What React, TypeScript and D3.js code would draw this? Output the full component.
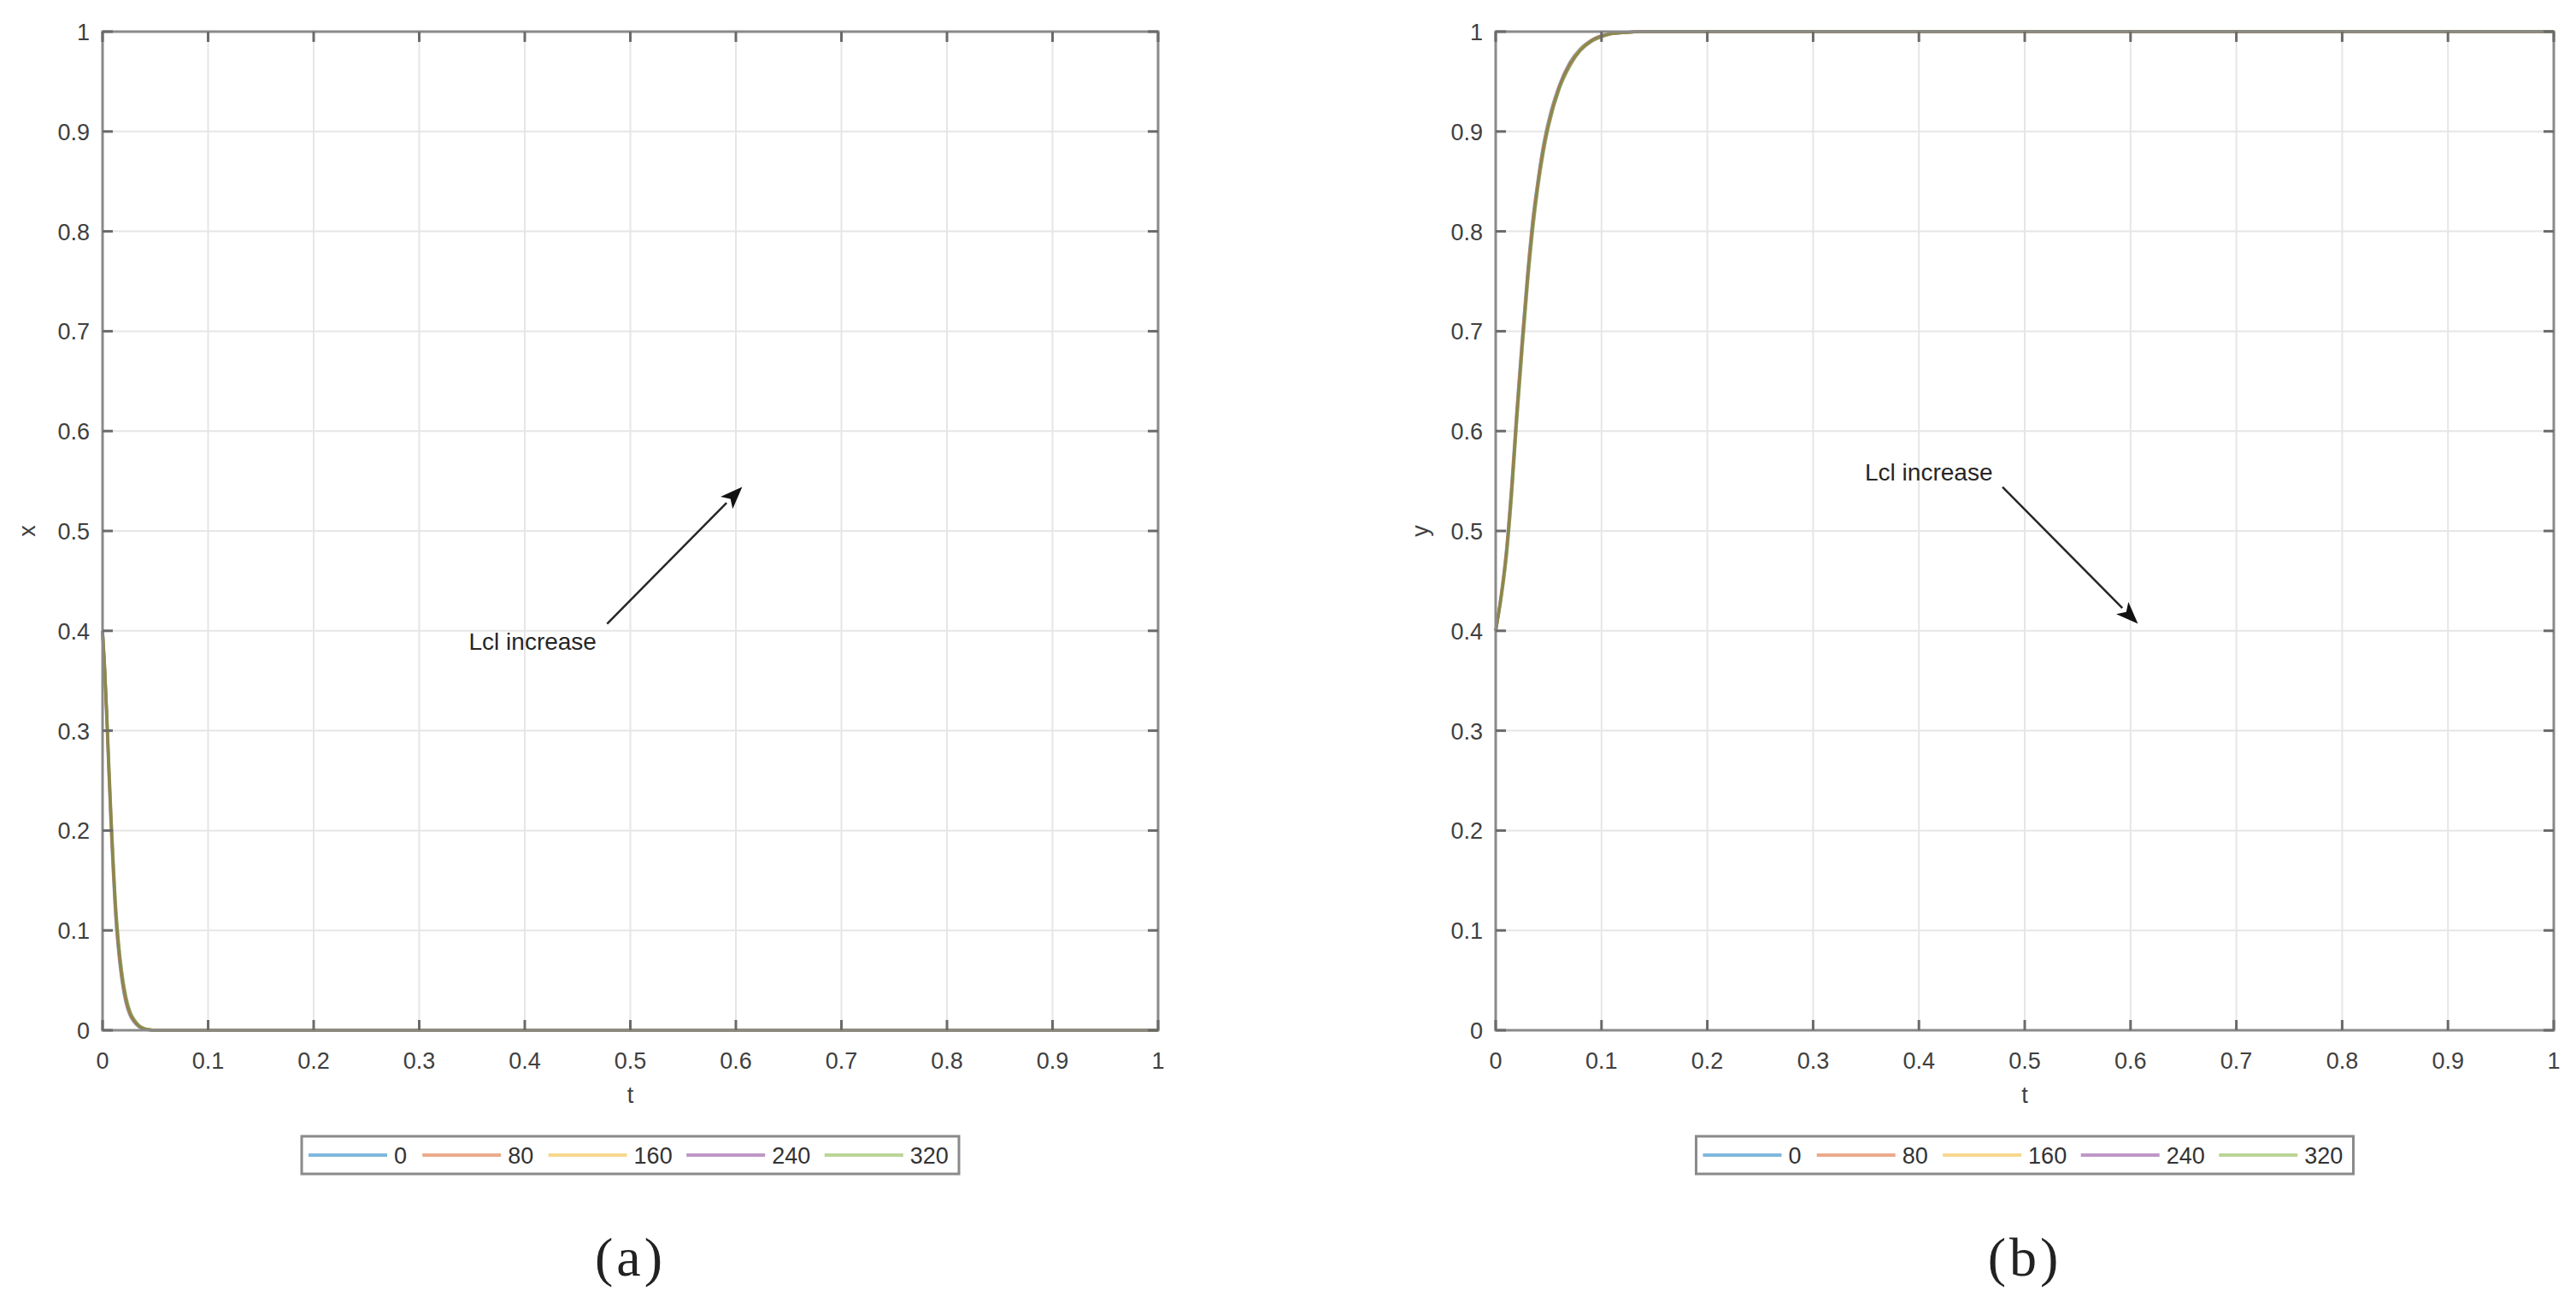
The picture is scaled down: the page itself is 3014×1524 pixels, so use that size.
import * as d3 from 'd3';

// legend labels (Lcl values) and MATLAB default colors
const seriesNames = ['0', '80', '160', '240', '320'];
const seriesColors = ['#0072BD', '#D95319', '#EDB120', '#7E2F8E', '#77AC30'];

const tickValues = [0, 0.1, 0.2, 0.3, 0.4, 0.5, 0.6, 0.7, 0.8, 0.9, 1];
const tickLabels = ['0', '0.1', '0.2', '0.3', '0.4', '0.5', '0.6', '0.7', '0.8', '0.9', '1'];

// panel (a): x(t)
const tX = [0, 0.002, 0.004, 0.006, 0.008, 0.01, 0.012, 0.015, 0.018, 0.022, 0.026, 0.03, 0.035, 0.04, 0.045, 0.05, 0.06, 1];
const x0 = [0.4, 0.36, 0.31, 0.255, 0.205, 0.16, 0.12, 0.08, 0.052, 0.028, 0.015, 0.008, 0.003, 0.001, 0.0003, 0, 0, 0];
const x80 = [0.4, 0.362, 0.313, 0.259, 0.209, 0.164, 0.124, 0.083, 0.055, 0.03, 0.016, 0.009, 0.0035, 0.0012, 0.0004, 0, 0, 0];
const x160 = [0.4, 0.363, 0.315, 0.262, 0.212, 0.167, 0.127, 0.086, 0.057, 0.032, 0.017, 0.0095, 0.004, 0.0014, 0.0005, 0, 0, 0];
const x240 = [0.4, 0.364, 0.317, 0.265, 0.215, 0.17, 0.13, 0.088, 0.059, 0.033, 0.018, 0.01, 0.0042, 0.0015, 0.0005, 0, 0, 0];
const x320 = [0.4, 0.365, 0.319, 0.268, 0.218, 0.173, 0.133, 0.091, 0.061, 0.035, 0.019, 0.011, 0.0045, 0.0016, 0.0006, 0, 0, 0];

// panel (b): y(t)
const tY = [0, 0.005, 0.01, 0.015, 0.02, 0.025, 0.03, 0.035, 0.04, 0.045, 0.05, 0.06, 0.07, 0.08, 0.09, 0.1, 0.11, 0.12, 0.14, 0.2, 1];
const y0 = [0.4, 0.435, 0.48, 0.545, 0.622, 0.692, 0.757, 0.812, 0.852, 0.886, 0.911, 0.946, 0.969, 0.983, 0.991, 0.996, 0.998, 0.999, 1, 1, 1];
const y80 = [0.4, 0.434, 0.478, 0.542, 0.619, 0.689, 0.754, 0.809, 0.85, 0.884, 0.909, 0.945, 0.968, 0.982, 0.991, 0.996, 0.998, 0.999, 1, 1, 1];
const y160 = [0.4, 0.433, 0.476, 0.539, 0.616, 0.686, 0.751, 0.806, 0.848, 0.882, 0.908, 0.944, 0.967, 0.982, 0.99, 0.995, 0.998, 0.999, 1, 1, 1];
const y240 = [0.4, 0.432, 0.474, 0.536, 0.613, 0.683, 0.748, 0.803, 0.846, 0.88, 0.906, 0.943, 0.966, 0.981, 0.99, 0.995, 0.998, 0.999, 1, 1, 1];
const y320 = [0.4, 0.431, 0.472, 0.533, 0.61, 0.68, 0.745, 0.8, 0.844, 0.878, 0.905, 0.942, 0.965, 0.981, 0.99, 0.995, 0.998, 0.999, 1, 1, 1];

const panels = [
  {
    left: 120, right: 1355, yLabel: 'x', caption: '(a)', t: tX,
    series: [x0, x80, x160, x240, x320],
    note: { text: [0.347, 0.381], from: [0.478, 0.407], to: [0.606, 0.544] },
  },
  {
    left: 1750, right: 2988, yLabel: 'y', caption: '(b)', t: tY,
    series: [y0, y80, y160, y240, y320],
    note: { text: [0.349, 0.5505], from: [0.479, 0.544], to: [0.607, 0.407] },
  },
];

const TOP = 37;
const BOTTOM = 1205;
const FONT = '"Liberation Sans", Arial, Helvetica, sans-serif';

function Panel({ p }: { p: any }) {
  const x = d3.scaleLinear().domain([0, 1]).range([p.left, p.right]);
  const y = d3.scaleLinear().domain([0, 1]).range([BOTTOM, TOP]);
  const line = d3.line<[number, number]>()
    .x(d => x(d[0]))
    .y(d => y(d[1]))
    .curve(d3.curveMonotoneX);
  const cx = (p.left + p.right) / 2;
  const cy = (TOP + BOTTOM) / 2;

  // legend layout
  const legW = 769, legH = 44;
  const legX = cx - legW / 2, legY = 1329;
  let off = 8;
  const items = seriesNames.map((n, i) => {
    const it = { n, c: seriesColors[i], x: legX + off };
    off += 92 + 8 + n.length * 14.2 + 19;
    return it;
  });

  const [tx, ty] = p.note.text;
  const [fx, fy] = p.note.from;
  const [ex, ey] = p.note.to;
  const ang = Math.atan2(y(ey) - y(fy), x(ex) - x(fx));
  const hl = 26, hw = 10;
  const bx = x(ex) - hl * Math.cos(ang), by = y(ey) - hl * Math.sin(ang);
  const head = [
    [x(ex), y(ey)],
    [bx + hw * Math.sin(ang), by - hw * Math.cos(ang)],
    [bx + hl * 0.25 * Math.cos(ang), by + hl * 0.25 * Math.sin(ang)],
    [bx - hw * Math.sin(ang), by + hw * Math.cos(ang)],
  ].map(d => d.join(',')).join(' ');

  return (
    <g>
      <rect x={p.left} y={TOP} width={p.right - p.left} height={BOTTOM - TOP} fill="#fff" />
      {/* grid */}
      {tickValues.map(v => (
        <g key={'g' + v}>
          <line x1={x(v)} x2={x(v)} y1={TOP} y2={BOTTOM} stroke="#e6e6e6" strokeWidth={2} />
          <line x1={p.left} x2={p.right} y1={y(v)} y2={y(v)} stroke="#e6e6e6" strokeWidth={2} />
        </g>
      ))}
      {/* curves */}
      {p.series.map((s: number[], i: number) => (
        <path key={i} d={line(p.t.map((t: number, j: number) => [t, s[j]]) as any) || ''}
          fill="none" stroke={seriesColors[i]} strokeOpacity={0.55} strokeWidth={3.5} />
      ))}
      {/* box and ticks */}
      <rect x={p.left} y={TOP} width={p.right - p.left} height={BOTTOM - TOP} fill="none" stroke="#8a8a8a" strokeWidth={3} />
      {tickValues.map((v, i) => (
        <g key={'t' + v} stroke="#6a6a6a" strokeWidth={3}>
          <line x1={x(v)} x2={x(v)} y1={BOTTOM} y2={BOTTOM - 12} />
          <line x1={x(v)} x2={x(v)} y1={TOP} y2={TOP + 12} />
          <line x1={p.left} x2={p.left + 12} y1={y(v)} y2={y(v)} />
          <line x1={p.right} x2={p.right - 12} y1={y(v)} y2={y(v)} />
        </g>
      ))}
      <g fontFamily={FONT} fontSize={27} fill="#404040">
        {tickValues.map((v, i) => (
          <text key={'xl' + v} x={x(v)} y={BOTTOM + 45} textAnchor="middle">{tickLabels[i]}</text>
        ))}
        {tickValues.map((v, i) => (
          <text key={'yl' + v} x={p.left - 15} y={y(v) + 10} textAnchor="end">{tickLabels[i]}</text>
        ))}
        <text x={cx} y={BOTTOM + 85} textAnchor="middle">t</text>
        <text transform={`translate(${p.left - 79},${cy}) rotate(-90)`} textAnchor="middle">{p.yLabel}</text>
      </g>
      {/* annotation */}
      <line x1={x(fx)} y1={y(fy)} x2={bx} y2={by} stroke="#262626" strokeWidth={2.5} />
      <polygon points={head} fill="#111" />
      <text x={x(tx)} y={y(ty)} fontFamily={FONT} fontSize={28} fill="#262626">Lcl increase</text>
      {/* legend */}
      <rect x={legX} y={legY} width={legW} height={legH} fill="#fff" stroke="#8a8a8a" strokeWidth={3} />
      {items.map(it => (
        <g key={it.n}>
          <line x1={it.x} x2={it.x + 92} y1={legY + legH / 2} y2={legY + legH / 2} stroke={it.c} strokeOpacity={0.5} strokeWidth={4} />
          <text x={it.x + 100} y={legY + legH / 2 + 10} fontFamily={FONT} fontSize={27} fill="#333">{it.n}</text>
        </g>
      ))}
      <text x={cx} y={1492} textAnchor="middle" fontFamily='"Liberation Serif", "DejaVu Serif", serif'
        fontSize={64} letterSpacing={4} fill="#222">{p.caption}</text>
    </g>
  );
}

export default function App() {
  return (
    <>
      <style>{'body{margin:0;}'}</style>
      <svg width={3014} height={1524} style={{ display: 'block', background: '#fff' }}>
        {panels.map(p => <Panel key={p.caption} p={p} />)}
      </svg>
    </>
  );
}
